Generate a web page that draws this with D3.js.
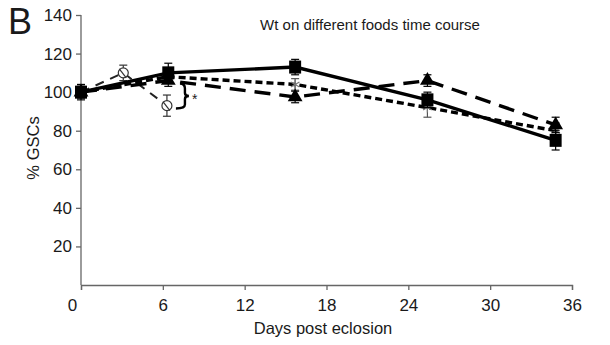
<!DOCTYPE html>
<html>
<head>
<meta charset="utf-8">
<script src="https://cdn.jsdelivr.net/npm/d3@7"></script>
<style>
  body { margin: 0; background: #fff; }
  text { font-family: "Liberation Sans", Arial, sans-serif; fill: #1a1a1a; }
</style>
</head>
<body>
<script>
// days
var daysMain = [0, 6.4, 15.7, 25.4, 34.8],
    daysCircle = [0, 3.1, 6.3];

var squareVals = [100, 110, 113, 96, 75],
    squareErr  = [4, 5, 4, 4, 5];
var starVals   = [100, 108, 104, 92, 80],
    starErr    = [3, 3, 3, 5, 4];
var triVals    = [100, 106, 97.5, 106, 83],
    triErr     = [3, 3, 3, 3, 4];
var circleVals = [100, 110, 93],
    circleErr  = [0, 4, 5.5];

var xTicks = [0, 6, 12, 18, 24, 30, 36],
    yTicks = [20, 40, 60, 80, 100, 120, 140];

var W = 610, H = 345;
var x = d3.scaleLinear().domain([0, 36]).range([81, 572]),
    y = d3.scaleLinear().domain([0, 140]).range([285, 15]);

var svg = d3.select("body").append("svg")
    .attr("width", W).attr("height", H);

// axes
var yAxis = svg.append("g").attr("transform", "translate(81,0)")
    .call(d3.axisLeft(y).tickValues(yTicks).tickSize(5).tickPadding(4));
yAxis.select(".domain").attr("d", "M0," + y(140) + "V" + y(0));
var xAxis = svg.append("g").attr("transform", "translate(0,285)")
    .call(d3.axisBottom(x).tickValues(xTicks).tickSize(5).tickPadding(9)
      .tickFormat(d3.format("d")));
[yAxis, xAxis].forEach(function(a) {
  a.selectAll("path,line").attr("stroke", "#666").attr("stroke-width", 1.3);
  a.selectAll("text").style("font-size", "17px")
    .style("font-family", "Liberation Sans, Arial, sans-serif").attr("fill", "#1a1a1a");
});
xAxis.selectAll(".tick").filter(d => d === 0).select("text").attr("x", -9);

svg.append("text").attr("x", 323).attr("y", 334).attr("text-anchor", "middle")
  .style("font-size", "16.5px").text("Days post eclosion");
svg.append("text").attr("transform", "translate(39,148) rotate(-90)")
  .attr("text-anchor", "middle").style("font-size", "16.5px").text("% GSCs");
svg.append("text").attr("x", 370).attr("y", 30).attr("text-anchor", "middle")
  .style("font-size", "15px").text("Wt on different foods time course");
svg.append("text").attr("x", 8).attr("y", 34)
  .style("font-size", "36px").text("B");

var line = d3.line().x(d => x(d[0])).y(d => y(d[1]));
function pts(days, vals) { return days.map((d, i) => [d, vals[i]]); }

function errBars(days, vals, errs, color) {
  var g = svg.append("g").attr("stroke", color).attr("stroke-width", 1.2);
  days.forEach(function(d, i) {
    if (!errs[i]) return;
    var cx = x(d);
    g.append("line").attr("x1", cx).attr("x2", cx)
      .attr("y1", y(vals[i] + errs[i])).attr("y2", y(vals[i] - errs[i]));
    [1, -1].forEach(function(s) {
      g.append("line").attr("x1", cx - 4).attr("x2", cx + 4)
        .attr("y1", y(vals[i] + s * errs[i])).attr("y2", y(vals[i] + s * errs[i]));
    });
  });
}

// circle series (thin dashes)
svg.append("path").datum(pts(daysCircle, circleVals)).attr("d", line)
  .attr("fill", "none").attr("stroke", "#222").attr("stroke-width", 2)
  .attr("stroke-dasharray", "9,7");
errBars(daysCircle, circleVals, circleErr, "#333");
daysCircle.slice(1).forEach(function(d, i) {
  var cx = x(d), cy = y(circleVals[i + 1]);
  svg.append("circle").attr("cx", cx).attr("cy", cy).attr("r", 5)
    .attr("fill", "#fff").attr("stroke", "#333").attr("stroke-width", 1.2);
  svg.append("line").attr("x1", cx - 4).attr("y1", cy - 4).attr("x2", cx + 3).attr("y2", cy + 5)
    .attr("stroke", "#333").attr("stroke-width", 1.2);
});

// star series (short dashes)
svg.append("path").datum(pts(daysMain, starVals)).attr("d", line)
  .attr("fill", "none").attr("stroke", "#000").attr("stroke-width", 3.4)
  .attr("stroke-dasharray", "7,4");
errBars(daysMain, starVals, starErr, "#555");
daysMain.forEach(function(d, i) {
  svg.append("path").attr("transform", "translate(" + x(d) + "," + y(starVals[i]) + ")")
    .attr("d", d3.symbol(d3.symbolAsterisk ? d3.symbolAsterisk : d3.symbolCross, 70)())
    .attr("fill", "none").attr("stroke", "#777").attr("stroke-width", 1.2);
});

// triangle series (long dashes)
svg.append("path").datum(pts(daysMain, triVals)).attr("d", line)
  .attr("fill", "none").attr("stroke", "#000").attr("stroke-width", 3.4)
  .attr("stroke-dasharray", "16,9");
errBars(daysMain, triVals, triErr, "#000");
svg.selectAll(".tri").data(pts(daysMain, triVals)).enter().append("path")
  .attr("transform", d => "translate(" + x(d[0]) + "," + y(d[1]) + ")")
  .attr("d", d3.symbol(d3.symbolTriangle, 95)()).attr("fill", "#000");

// square series (solid)
svg.append("path").datum(pts(daysMain, squareVals)).attr("d", line)
  .attr("fill", "none").attr("stroke", "#000").attr("stroke-width", 3.4);
errBars(daysMain, squareVals, squareErr, "#000");
svg.selectAll(".sq").data(pts(daysMain, squareVals)).enter().append("rect")
  .attr("x", d => x(d[0]) - 6).attr("y", d => y(d[1]) - 6.5)
  .attr("width", 12).attr("height", 13).attr("fill", "#000");

// brace with asterisk marking the significant drop
var bx = x(7.4), bTop = y(104.5), bBot = y(91.5), bMid = (bTop + bBot) / 2;
svg.append("path")
  .attr("d", "M" + (bx - 2) + "," + bTop + " Q" + (bx + 3) + "," + bTop + " " + (bx + 3) + "," + (bTop + 5) +
    " L" + (bx + 3) + "," + (bMid - 3) + " Q" + (bx + 3) + "," + bMid + " " + (bx + 7) + "," + bMid +
    " Q" + (bx + 3) + "," + bMid + " " + (bx + 3) + "," + (bMid + 3) +
    " L" + (bx + 3) + "," + (bBot - 4) + " Q" + (bx + 3) + "," + bBot + " " + (bx - 6) + "," + bBot)
  .attr("fill", "none").attr("stroke", "#000").attr("stroke-width", 2.4);
svg.append("text").attr("x", bx + 10).attr("y", bMid + 8).style("font-size", "14px").text("*");
</script>
</body>
</html>
